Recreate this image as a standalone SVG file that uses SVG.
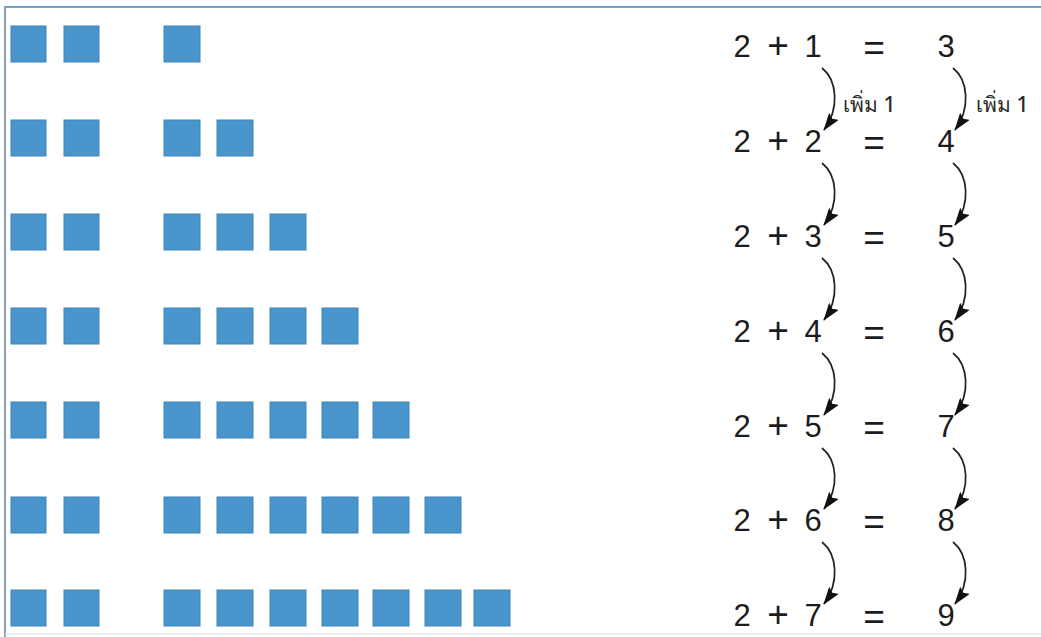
<svg xmlns="http://www.w3.org/2000/svg" width="1041" height="637" viewBox="0 0 1041 637">
<defs>
<style>
.sq{fill:#4a95cb;stroke:#3d85b8;stroke-width:1}
.eq{font-family:"Liberation Sans",Arial,sans-serif;font-size:31px;fill:#1c1c1c;text-anchor:middle}
.op{font-family:"Liberation Sans",Arial,sans-serif;font-size:37px;fill:#1c1c1c;text-anchor:middle}
.lbl{font-family:"Noto Sans","DejaVu Sans",sans-serif;font-size:21px;font-weight:500;fill:#2a2a2a}
.arr{fill:none;stroke:#222;stroke-width:1.7;marker-end:url(#ah)}
</style>
<marker id="ah" viewBox="0 0 18 12" refX="17" refY="6" markerWidth="18" markerHeight="12" markerUnits="userSpaceOnUse" orient="auto">
<path d="M0,0 L18,6 L0,12 L3,6 Z" fill="#111"/>
</marker>
</defs>
<rect x="0" y="0" width="1041" height="637" fill="#fff"/>
<g id="frame">
<line x1="4" y1="7" x2="1041" y2="7" stroke="#6fa3c4" stroke-width="2"/>
<line x1="5" y1="7" x2="5" y2="637" stroke="#8aa0b2" stroke-width="2"/>
<line x1="5" y1="634" x2="1041" y2="634" stroke="#e3e6ea" stroke-width="1.5"/>
</g>
<g id="squares">
<g id="row1"><rect class="sq" x="11" y="26" width="35" height="36"/><rect class="sq" x="64" y="26" width="35" height="36"/><rect class="sq" x="164" y="26" width="36" height="36"/></g>
<g id="row2"><rect class="sq" x="11" y="120" width="35" height="36"/><rect class="sq" x="64" y="120" width="35" height="36"/><rect class="sq" x="164" y="120" width="36" height="36"/><rect class="sq" x="217" y="120" width="36" height="36"/></g>
<g id="row3"><rect class="sq" x="11" y="214" width="35" height="36"/><rect class="sq" x="64" y="214" width="35" height="36"/><rect class="sq" x="164" y="214" width="36" height="36"/><rect class="sq" x="217" y="214" width="36" height="36"/><rect class="sq" x="270" y="214" width="36" height="36"/></g>
<g id="row4"><rect class="sq" x="11" y="308" width="35" height="36"/><rect class="sq" x="64" y="308" width="35" height="36"/><rect class="sq" x="164" y="308" width="36" height="36"/><rect class="sq" x="217" y="308" width="36" height="36"/><rect class="sq" x="270" y="308" width="36" height="36"/><rect class="sq" x="322" y="308" width="36" height="36"/></g>
<g id="row5"><rect class="sq" x="11" y="402" width="35" height="36"/><rect class="sq" x="64" y="402" width="35" height="36"/><rect class="sq" x="164" y="402" width="36" height="36"/><rect class="sq" x="217" y="402" width="36" height="36"/><rect class="sq" x="270" y="402" width="36" height="36"/><rect class="sq" x="322" y="402" width="36" height="36"/><rect class="sq" x="373" y="402" width="36" height="36"/></g>
<g id="row6"><rect class="sq" x="11" y="497" width="35" height="36"/><rect class="sq" x="64" y="497" width="35" height="36"/><rect class="sq" x="164" y="497" width="36" height="36"/><rect class="sq" x="217" y="497" width="36" height="36"/><rect class="sq" x="270" y="497" width="36" height="36"/><rect class="sq" x="322" y="497" width="36" height="36"/><rect class="sq" x="373" y="497" width="36" height="36"/><rect class="sq" x="425" y="497" width="36" height="36"/></g>
<g id="row7"><rect class="sq" x="11" y="590" width="35" height="36"/><rect class="sq" x="64" y="590" width="35" height="36"/><rect class="sq" x="164" y="590" width="36" height="36"/><rect class="sq" x="217" y="590" width="36" height="36"/><rect class="sq" x="270" y="590" width="36" height="36"/><rect class="sq" x="322" y="590" width="36" height="36"/><rect class="sq" x="373" y="590" width="36" height="36"/><rect class="sq" x="425" y="590" width="36" height="36"/><rect class="sq" x="474" y="590" width="36" height="36"/></g>
</g>
<g id="equations">
<g id="eq1"><text class="eq" x="742" y="57">2</text><text class="op" x="778" y="58">+</text><text class="eq" x="813" y="57">1</text><text class="op" x="874" y="60">=</text><text class="eq" x="946" y="57">3</text></g>
<g id="eq2"><text class="eq" x="742" y="152">2</text><text class="op" x="778" y="153">+</text><text class="eq" x="813" y="152">2</text><text class="op" x="874" y="155">=</text><text class="eq" x="946" y="152">4</text></g>
<g id="eq3"><text class="eq" x="742" y="247">2</text><text class="op" x="778" y="248">+</text><text class="eq" x="813" y="247">3</text><text class="op" x="874" y="250">=</text><text class="eq" x="946" y="247">5</text></g>
<g id="eq4"><text class="eq" x="742" y="342">2</text><text class="op" x="778" y="343">+</text><text class="eq" x="813" y="342">4</text><text class="op" x="874" y="345">=</text><text class="eq" x="946" y="342">6</text></g>
<g id="eq5"><text class="eq" x="742" y="437">2</text><text class="op" x="778" y="438">+</text><text class="eq" x="813" y="437">5</text><text class="op" x="874" y="440">=</text><text class="eq" x="946" y="437">7</text></g>
<g id="eq6"><text class="eq" x="742" y="531">2</text><text class="op" x="778" y="532">+</text><text class="eq" x="813" y="531">6</text><text class="op" x="874" y="534">=</text><text class="eq" x="946" y="531">8</text></g>
<g id="eq7"><text class="eq" x="742" y="626">2</text><text class="op" x="778" y="627">+</text><text class="eq" x="813" y="626">7</text><text class="op" x="874" y="629">=</text><text class="eq" x="946" y="626">9</text></g>
</g>
<g id="labels">
<text class="lbl" x="843" y="112">เพิ่ม 1</text>
<text class="lbl" x="976" y="112">เพิ่ม 1</text>
</g>
<g id="connectors">
<path class="arr" d="M822,68 C837,80 840,108 824,130"/>
<path class="arr" d="M822,163 C837,175 840,203 824,225"/>
<path class="arr" d="M822,258 C837,270 840,298 824,320"/>
<path class="arr" d="M822,353 C837,365 840,393 824,415"/>
<path class="arr" d="M822,448 C837,460 840,487 824,509"/>
<path class="arr" d="M822,542 C837,554 840,582 824,604"/>
<path class="arr" d="M953,68 C968,80 971,108 955,130"/>
<path class="arr" d="M953,163 C968,175 971,203 955,225"/>
<path class="arr" d="M953,258 C968,270 971,298 955,320"/>
<path class="arr" d="M953,353 C968,365 971,393 955,415"/>
<path class="arr" d="M953,448 C968,460 971,487 955,509"/>
<path class="arr" d="M953,542 C968,554 971,582 955,604"/>
</g>
</svg>
